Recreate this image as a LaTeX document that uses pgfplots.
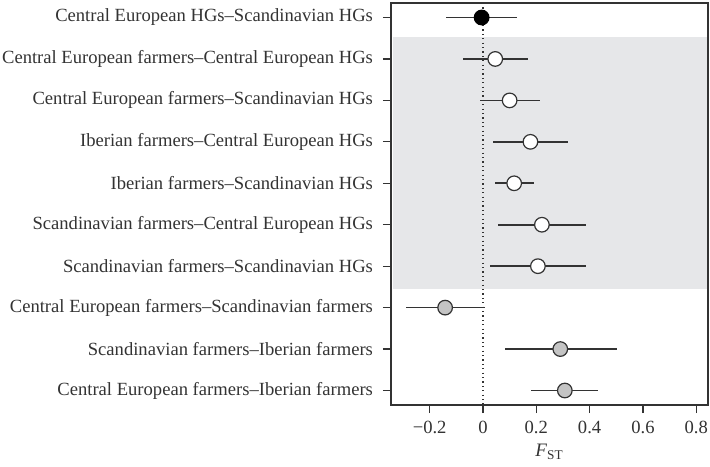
\documentclass[border=0pt]{standalone}
\usepackage{fontspec}
\setmainfont{Liberation Serif}
\usepackage{pgfplots}
\pgfplotsset{compat=1.18}
\definecolor{bandgray}{HTML}{E6E7E9}
\definecolor{ink}{HTML}{333333}
\definecolor{midgray}{HTML}{C4C4C4}
\begin{document}
\begin{tikzpicture}
\begin{axis}[
  scale only axis,
  width=158.5pt, height=201pt,
  xmin=-0.345, xmax=0.844,
  ymin=0.65, ymax=10.35,
  y dir=reverse,
  axis line style={line width=0.6pt, draw=ink},
  xtick={-0.2,0,0.2,0.4,0.6,0.8},
  xticklabels={−0.2,0,0.2,0.4,0.6,0.8},
  ytick={1,...,10},
  yticklabels={
    Central European HGs–Scandinavian HGs,
    Central European farmers–Central European HGs,
    Central European farmers–Scandinavian HGs,
    Iberian farmers–Central European HGs,
    Iberian farmers–Scandinavian HGs,
    Scandinavian farmers–Central European HGs,
    Scandinavian farmers–Scandinavian HGs,
    Central European farmers–Scandinavian farmers,
    Scandinavian farmers–Iberian farmers,
    Central European farmers–Iberian farmers},
  tick align=outside,
  major tick length=4pt,
  tick style={draw=ink, line width=0.6pt},
  xtick pos=lower, ytick pos=left,
  tick label style={font=\fontsize{9.3}{11}\selectfont, text=ink},
  yticklabel style={xshift=-1.5pt},
  xticklabel style={yshift=-0.5pt},
  xlabel={\textit{F}\textsubscript{ST}},
  xlabel style={font=\fontsize{9.5}{11}\selectfont, text=ink, at={(axis description cs:0.5,0)}, anchor=north, yshift=-16pt},
  error bars/error bar style={draw=ink, line width=0.8pt},
]
\fill[bandgray] (axis cs:-0.338,1.48) rectangle (axis cs:0.840,7.54);
\draw[ink, line width=0.6pt, dash pattern=on 0.6pt off 1.6pt] (axis cs:0,0.65) -- (axis cs:0,10.35);
\draw[ink, line width=0.7pt] (rel axis cs:0,0) rectangle (rel axis cs:1,1);
% black: HG vs HG
\addplot[only marks, mark=*, mark size=3.65pt, mark options={fill=black, draw=black, line width=0.6pt},
  error bars/.cd, x dir=both, x explicit, error mark=none]
  coordinates {(-0.005,1) += (0.132,0) -= (0.134,0)};
% white: farmers vs HGs
\addplot[only marks, mark=*, mark size=3.65pt, mark options={fill=white, draw=ink, line width=0.6pt},
  error bars/.cd, x dir=both, x explicit, error mark=none]
  coordinates {
    (0.046,2) += (0.124,0) -= (0.121,0)
    (0.100,3) += (0.113,0) -= (0.112,0)
    (0.178,4) += (0.141,0) -= (0.139,0)
    (0.117,5) += (0.074,0) -= (0.071,0)
    (0.221,6) += (0.167,0) -= (0.165,0)
    (0.206,7) += (0.182,0) -= (0.181,0)
  };
% gray: farmers vs farmers
\addplot[only marks, mark=*, mark size=3.65pt, mark options={fill=midgray, draw=ink, line width=0.6pt},
  error bars/.cd, x dir=both, x explicit, error mark=none]
  coordinates {
    (-0.142,8) += (0.148,0) -= (0.148,0)
    (0.290,9) += (0.211,0) -= (0.209,0)
    (0.307,10) += (0.126,0) -= (0.126,0)
  };
\end{axis}
\pgfresetboundingbox
\useasboundingbox ([shift={(-195.5pt,-30.5pt)}]current axis.south west) rectangle ([shift={(1pt,1.5pt)}]current axis.north east);
\end{tikzpicture}
\end{document}
